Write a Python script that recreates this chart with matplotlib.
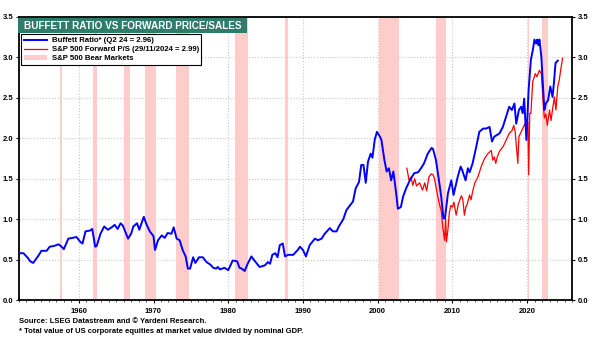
import numpy as np
import matplotlib.pyplot as plt
from matplotlib.patches import Rectangle, Patch
from matplotlib.lines import Line2D
from matplotlib.ticker import MultipleLocator

plt.rcParams['font.family'] = ['Liberation Sans', 'DejaVu Sans']
plt.rcParams['font.weight'] = 'bold'

# Buffett ratio (quarterly)
buffett_years = [1952.1, 1952.6, 1953.2, 1953.5, 1953.9, 1954.6, 1955.0, 1955.7, 1956.1, 1956.7,
                 1957.3, 1957.7, 1958.0, 1958.6, 1959.2, 1959.7, 1960.2, 1960.5, 1960.9, 1961.5,
                 1961.8, 1962.2, 1962.4, 1962.9, 1963.4, 1963.9, 1964.4, 1964.8, 1965.2, 1965.6,
                 1965.9, 1966.6, 1967.0, 1967.3, 1967.8, 1968.1, 1968.4, 1968.7, 1969.0, 1969.5,
                 1970.0, 1970.2, 1970.6, 1971.1, 1971.5, 1971.9, 1972.4, 1972.7, 1973.1, 1973.5,
                 1973.9, 1974.3, 1974.6, 1974.9, 1975.3, 1975.6, 1976.1, 1976.6, 1977.1, 1977.6,
                 1978.0, 1978.4, 1978.6, 1978.9, 1979.5, 1980.0, 1980.6, 1981.2, 1981.5, 1981.8,
                 1982.2, 1982.6, 1983.1, 1983.5, 1984.2, 1984.9, 1985.3, 1985.6, 1985.9, 1986.3,
                 1986.6, 1986.9, 1987.3, 1987.6, 1988.0, 1988.7, 1989.3, 1989.6, 1990.0, 1990.4,
                 1990.9, 1991.6, 1992.0, 1992.5, 1992.9, 1993.6, 1994.0, 1994.5, 1994.8, 1995.4,
                 1995.8, 1996.2, 1996.7, 1997.05, 1997.5, 1997.8, 1998.1, 1998.4, 1998.7, 1999.06,
                 1999.3, 1999.6, 1999.9, 2000.3, 2000.5, 2000.9, 2001.2, 2001.5, 2001.8, 2002.1,
                 2002.5, 2002.7, 2003.1, 2003.4, 2003.8, 2004.3, 2004.9, 2005.4, 2005.8, 2006.2,
                 2006.7, 2007.2, 2007.4, 2007.8, 2008.2, 2008.5, 2008.8, 2009.0, 2009.4, 2009.85,
                 2010.15, 2010.7, 2011.1, 2011.3, 2011.76, 2012.07, 2012.3, 2012.7, 2013.2, 2013.6,
                 2014.1, 2014.5, 2014.97, 2015.3, 2015.6, 2016.3, 2016.75, 2017.2, 2017.6, 2017.96,
                 2018.3, 2018.54, 2018.9, 2019.2, 2019.4, 2019.6, 2019.9, 2020.2, 2020.5, 2020.76,
                 2020.98, 2021.2, 2021.35, 2021.5, 2021.65, 2021.9, 2022.1, 2022.3, 2022.5, 2022.8,
                 2023.1, 2023.4, 2023.6, 2023.8, 2024.1]
buffett_vals = [0.58, 0.58, 0.52, 0.48, 0.46, 0.55, 0.61, 0.61, 0.66, 0.67,
                0.69, 0.66, 0.63, 0.76, 0.77, 0.78, 0.72, 0.70, 0.85, 0.86,
                0.88, 0.66, 0.67, 0.82, 0.91, 0.87, 0.90, 0.93, 0.88, 0.95,
                0.92, 0.76, 0.82, 0.91, 0.95, 0.87, 0.95, 1.03, 0.95, 0.85,
                0.79, 0.62, 0.74, 0.80, 0.77, 0.83, 0.82, 0.90, 0.76, 0.74,
                0.62, 0.54, 0.39, 0.39, 0.53, 0.46, 0.53, 0.53, 0.47, 0.44,
                0.40, 0.39, 0.41, 0.38, 0.40, 0.37, 0.49, 0.48, 0.40, 0.39,
                0.36, 0.45, 0.54, 0.49, 0.41, 0.43, 0.47, 0.45, 0.56, 0.58,
                0.53, 0.68, 0.70, 0.54, 0.56, 0.56, 0.62, 0.66, 0.62, 0.54,
                0.68, 0.76, 0.74, 0.76, 0.82, 0.89, 0.85, 0.85, 0.91, 1.00,
                1.11, 1.16, 1.22, 1.38, 1.46, 1.67, 1.67, 1.45, 1.71, 1.81,
                1.76, 1.98, 2.08, 2.02, 1.98, 1.73, 1.59, 1.63, 1.48, 1.59,
                1.30, 1.13, 1.15, 1.28, 1.38, 1.48, 1.57, 1.58, 1.63, 1.69,
                1.81, 1.88, 1.87, 1.73, 1.48, 1.28, 1.01, 1.01, 1.32, 1.48,
                1.30, 1.52, 1.65, 1.61, 1.48, 1.63, 1.58, 1.69, 1.90, 2.08,
                2.12, 2.12, 2.14, 1.96, 2.02, 2.06, 2.14, 2.27, 2.39, 2.35,
                2.43, 2.18, 2.35, 2.39, 2.31, 2.49, 1.98, 2.60, 2.97, 3.09,
                3.22, 3.17, 3.22, 3.15, 3.22, 3.01, 2.68, 2.35, 2.43, 2.47,
                2.64, 2.51, 2.70, 2.93, 2.96]

# S&P 500 forward price/sales
ps_years = [2003.9, 2004.2, 2004.45, 2004.7, 2004.95, 2005.2, 2005.6, 2006.0, 2006.3, 2006.55,
            2006.85, 2007.15, 2007.4, 2007.6, 2007.8, 2008.0, 2008.3, 2008.5, 2008.7, 2008.95,
            2009.1, 2009.2, 2009.4, 2009.6, 2009.8, 2010.0, 2010.2, 2010.5, 2010.8, 2011.2,
            2011.4, 2011.6, 2011.8, 2012.0, 2012.3, 2012.5, 2012.7, 2013.0, 2013.4, 2013.85,
            2014.3, 2014.75, 2015.2, 2015.4, 2015.6, 2015.8, 2016.0, 2016.3, 2016.8, 2017.2,
            2017.6, 2018.0, 2018.2, 2018.4, 2018.75, 2018.9, 2019.1, 2019.4, 2019.7, 2019.9,
            2020.1, 2020.2, 2020.35, 2020.5, 2020.75, 2021.1, 2021.3, 2021.65, 2021.9, 2022.1,
            2022.3, 2022.5, 2022.7, 2023.0, 2023.2, 2023.45, 2023.65, 2023.85, 2024.1, 2024.3,
            2024.55, 2024.75]
ps_vals = [1.63, 1.48, 1.52, 1.42, 1.50, 1.41, 1.45, 1.36, 1.45, 1.35,
           1.52, 1.56, 1.55, 1.50, 1.40, 1.30, 1.17, 1.11, 0.91, 0.74,
           1.00, 0.72, 0.87, 1.09, 1.17, 1.15, 1.21, 1.05, 1.19, 1.29,
           1.24, 1.05, 1.15, 1.19, 1.30, 1.24, 1.34, 1.45, 1.52, 1.65,
           1.75, 1.81, 1.85, 1.73, 1.77, 1.69, 1.77, 1.84, 1.90, 1.98,
           2.06, 2.10, 2.16, 2.08, 1.69, 2.02, 2.06, 2.12, 2.18, 2.10,
           2.20, 1.55, 2.31, 2.31, 2.70, 2.80, 2.76, 2.84, 2.80, 2.51,
           2.25, 2.30, 2.16, 2.35, 2.22, 2.39, 2.51, 2.35, 2.64, 2.72,
           2.88, 2.99]

# S&P 500 bear markets (start, end)
bear_starts = [1957.55, 1961.95, 1966.1, 1968.9, 1973.05, 1980.9, 1987.65, 2000.2, 2007.8, 2020.12, 2022.0]
bear_ends = [1957.8, 1962.5, 1966.8, 1970.4, 1974.75, 1982.6, 1987.95, 2002.8, 2009.2, 2020.25, 2022.8]

fig = plt.figure(figsize=(6.07, 3.45), dpi=100)
ax = fig.add_axes([0.0313, 0.130, 0.911, 0.821])

for s, e in zip(bear_starts, bear_ends):
    ax.axvspan(s, e, color='#ffcccc', lw=0, zorder=1)

ax.plot(ps_years, ps_vals, color='red', lw=0.9, zorder=3)
ax.plot(buffett_years, buffett_vals, color='blue', lw=1.4, zorder=4)

ax.set_xlim(1952, 2026)
ax.set_ylim(0, 3.5)
ax.xaxis.set_major_locator(MultipleLocator(10))
ax.xaxis.set_minor_locator(MultipleLocator(1))
ax.yaxis.set_major_locator(MultipleLocator(0.5))
ax.grid(True, which='major', color='#c8c8c8', ls=':', lw=0.8, zorder=0)
ax.set_axisbelow(True)

for sp in ax.spines.values():
    sp.set_linewidth(1.3)
ax.tick_params(axis='both', which='major', labelsize=5.5, length=2.5, width=0.8, pad=1.5)
ax.tick_params(axis='x', which='major', pad=3.5)
ax.tick_params(axis='x', which='minor', length=1.5, width=0.5)
ax.tick_params(axis='y', right=True, labelright=True)
ax.yaxis.set_major_formatter(plt.FuncFormatter(lambda v, p: f'{v:.1f}'))
for lab in ax.get_xticklabels() + ax.get_yticklabels():
    lab.set_fontweight('bold')

# title box
fig.patches.append(Rectangle((0.0297, 0.904), 0.377, 0.0435, transform=fig.transFigure,
                             facecolor='#2e7c6c', edgecolor='none', zorder=5))
fig.text(0.218, 0.926, 'BUFFETT RATIO VS FORWARD PRICE/SALES', color='white',
         fontsize=7.2, fontweight='bold', ha='center', va='center', zorder=6)

handles = [Line2D([], [], color='blue', lw=1.4),
           Line2D([], [], color='red', lw=0.9),
           Patch(facecolor='#ffcccc', edgecolor='none')]
labels = ['Buffett Ratio* (Q2 24 = 2.96)',
          'S&P 500 Forward P/S (29/11/2024 = 2.99)',
          'S&P 500 Bear Markets']
leg = ax.legend(handles, labels, loc='upper left', bbox_to_anchor=(0.004, 0.938),
                fontsize=5.6, frameon=True, fancybox=False, framealpha=1,
                borderpad=0.3, labelspacing=0.2, handlelength=3.0, handletextpad=0.6,
                borderaxespad=0)
leg.get_frame().set_edgecolor('black')
leg.get_frame().set_linewidth(0.8)
for t in leg.get_texts():
    t.set_fontweight('bold')

fig.text(0.032, 0.068, 'Source: LSEG Datastream and \u00a9 Yardeni Research.', fontsize=5.5,
         fontweight='bold', va='center')
fig.text(0.032, 0.040, '* Total value of US corporate equities at market value divided by nominal GDP.',
         fontsize=5.5, fontweight='bold', va='center')

fig.savefig('out.png', dpi=100)
